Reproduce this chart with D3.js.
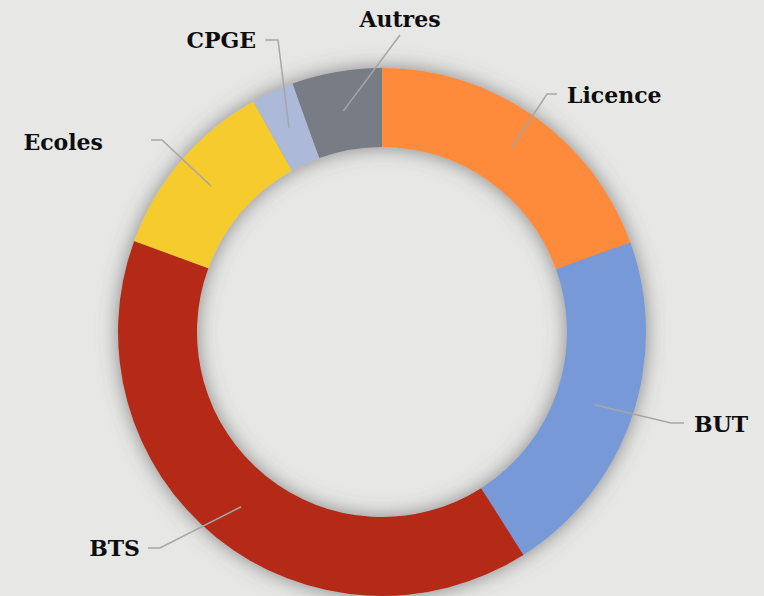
<!DOCTYPE html>
<html>
<head>
<meta charset="utf-8">
<script src="https://cdn.jsdelivr.net/npm/d3@7/dist/d3.min.js"></script>
<style>
  html, body { margin: 0; padding: 0; background: #e7e8e6; }
  svg { display: block; }
  text { font-family: "DejaVu Serif", serif; font-weight: bold; fill: #0d0d0d; }
</style>
</head>
<body>
<svg id="chart" width="764" height="596"></svg>
<script>
// ---- data ----
const categories = ["Licence", "BUT", "BTS", "Ecoles", "CPGE", "Autres"];
const values = [19.5, 21.5, 39.6, 11.3, 2.6, 5.5];
const colors = ["#fe8a3a", "#7799d8", "#b42a16", "#f5cb2d", "#adb9d8", "#777c85"];

// ---- label layout (annotation placement) ----
const labelLayout = [
  { elbow: [547, 94],  end: [557, 94],  tx: 567, ty: 95,  anchor: "start" },
  { elbow: [671, 423], end: [684, 423], tx: 694, ty: 424, anchor: "start" },
  { elbow: [160, 548], end: [148, 548], tx: 140, ty: 548, anchor: "end" },
  { elbow: [162, 140], end: [151, 140], tx: 103, ty: 142, anchor: "end" },
  { elbow: [278, 40],  end: [265, 40],  tx: 256, ty: 40,  anchor: "end" },
  { elbow: [400, 35],  end: [400, 35],  tx: 400, ty: 19,  anchor: "middle" }
];

const W = 764, H = 596;
const cx = 382, cy = 332, rOuter = 264, rInner = 185;

const svg = d3.select("#chart");
svg.append("rect").attr("width", W).attr("height", H).attr("fill", "#e7e8e6");

const defs = svg.append("defs");
const f = defs.append("filter").attr("id", "shadow")
  .attr("x", "-30%").attr("y", "-30%").attr("width", "160%").attr("height", "160%");
f.append("feDropShadow").attr("dx", 0).attr("dy", 0)
  .attr("stdDeviation", 10).attr("flood-color", "#5a5a5a").attr("flood-opacity", 0.7);

const data = categories.map((c, i) => ({ name: c, value: values[i], color: colors[i], layout: labelLayout[i] }));

const pie = d3.pie().value(d => d.value).sort(null);
const arc = d3.arc().innerRadius(rInner).outerRadius(rOuter);
const midArc = d3.arc().innerRadius((rInner + rOuter) / 2).outerRadius((rInner + rOuter) / 2);

const arcs = pie(data);

const g = svg.append("g").attr("transform", `translate(${cx},${cy})`);
g.append("g").attr("filter", "url(#shadow)")
  .selectAll("path").data(arcs).join("path")
  .attr("d", arc)
  .attr("fill", d => d.data.color);

// leader lines and labels
const lines = svg.append("g");
arcs.forEach(a => {
  const c = midArc.centroid(a);
  const start = [c[0] + cx, c[1] + cy];
  const L = a.data.layout;
  lines.append("path")
    .attr("d", d3.line()([start, L.elbow, L.end]))
    .attr("fill", "none")
    .attr("stroke", "#a6a6a6")
    .attr("stroke-width", 1.5);
  svg.append("text")
    .attr("x", L.tx).attr("y", L.ty)
    .attr("text-anchor", L.anchor)
    .attr("dominant-baseline", "central")
    .attr("font-size", 22)
    .text(a.data.name);
});
</script>
</body>
</html>
